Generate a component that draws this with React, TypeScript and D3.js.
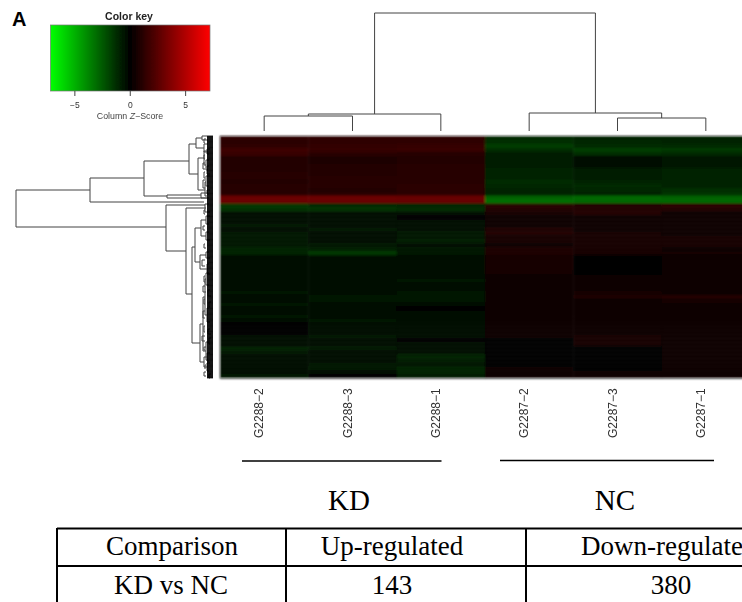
import React from "react";
import * as d3 from "d3";

// ---------- data ----------
const samples = ["G2288-2", "G2288-3", "G2288-1", "G2287-2", "G2287-3", "G2287-1"];
const sampleLabels = ["G2288\u22122", "G2288\u22123", "G2288\u22121", "G2287\u22122", "G2287\u22123", "G2287\u22121"];

const zG2288_2 = [
  1.3,1.2,1.3,1.7,1.6,1.0,0.9,0.9,1.0,1.1,
  1.1,1.0,1.1,1.1,1.1,3.0,3.0,-1.6,-1.4,-0.4,
  -0.3,-0.4,-0.6,-0.3,-0.5,-0.5,-0.5,-0.5,-1.0,-0.9,
  -0.2,-0.2,-0.2,-0.3,-0.2,-0.3,-0.3,-0.2,-0.4,-0.5,
  -0.4,-0.4,-0.5,-0.4,-0.2,-0.5,-0.3,-0.1,-0.1,-0.1,
  -0.2,-0.3,-0.2,-0.9,-0.5,-0.2,-0.2,-0.2,-0.3,-0.2,-0.7];
const zG2288_3 = [
  1.3,1.3,1.4,1.5,1.2,0.8,0.8,0.9,1.0,1.0,
  1.1,1.1,1.1,1.0,1.1,3.0,2.9,-1.2,-1.4,-0.3,
  -0.3,-0.2,-0.2,-0.6,-0.4,-0.4,-0.4,-0.6,-0.8,-1.6,
  -0.3,-0.3,-0.4,-0.3,-0.3,-0.3,-0.2,-0.3,-0.3,-0.4,
  -0.5,-0.5,-0.4,-0.2,-0.3,-0.4,-0.5,-0.4,-0.3,-0.4,
  -0.6,-0.3,-0.4,-0.7,-0.3,-0.2,-0.2,-0.5,-0.7,-0.3,-0.1];
const zG2288_1 = [
  1.3,1.3,1.5,1.6,1.1,0.9,1.0,1.1,1.1,1.1,
  1.1,1.1,1.2,1.2,1.2,2.9,2.9,-1.1,-1.2,-0.2,
  -0.1,-0.2,-0.2,-0.4,-0.7,-0.7,-0.8,-0.4,-0.7,-0.7,
  -0.3,-0.3,-0.4,-0.3,-0.3,-0.4,-0.5,-0.4,-0.4,-0.7,
  -0.5,-0.7,-0.2,-0.1,-0.2,-0.3,-0.3,-0.2,-0.2,-0.2,
  -0.2,-0.1,-0.4,-0.2,-0.2,-0.9,-0.8,-0.6,-0.9,-0.9,-0.8];
const zG2287_2 = [
  -1.2,-1.3,-1.7,-1.3,-0.8,-0.8,-0.8,-0.8,-1.0,-1.0,
  -1.0,-1.2,-1.1,-1.0,-1.0,-2.7,-3.1,1.2,1.0,0.5,
  0.3,0.3,0.4,0.8,0.9,0.5,0.7,0.4,0.8,0.8,
  0.7,0.7,0.7,0.6,0.5,0.4,0.4,0.4,0.4,0.3,
  0.3,0.4,0.4,0.4,0.3,0.3,0.2,0.2,0.2,0.2,
  0.2,0.1,0.1,0.1,0.1,0.1,0.1,0.1,0.2,0.4,0.2];
const zG2287_3 = [
  -1.0,-1.1,-1.2,-1.7,-1.3,-0.4,-0.3,-0.4,-0.8,-0.8,
  -0.8,-0.9,-1.2,-1.1,-1.0,-2.9,-2.9,0.9,1.0,0.9,
  0.2,0.2,0.3,0.4,0.5,0.5,0.6,0.7,0.7,0.7,
  0.1,0.1,0.1,0.1,0.1,0.2,0.2,0.2,0.4,0.6,
  0.8,0.2,0.3,0.2,0.2,0.2,0.2,0.3,0.3,0.4,
  0.5,0.5,0.5,0.1,0.1,0.1,0.1,0.1,0.1,0.2,0.2];
const zG2287_1 = [
  -1.0,-1.0,-1.2,-1.6,-1.2,-0.5,-0.6,-0.6,-0.9,-1.0,
  -1.0,-1.0,-1.0,-1.3,-1.4,-2.7,-2.9,1.3,1.0,0.2,
  0.3,0.3,0.3,0.4,0.4,0.5,0.6,0.7,0.4,0.5,
  0.2,0.2,0.3,0.3,0.4,0.3,0.3,0.2,0.3,0.4,
  0.9,0.6,0.4,0.3,0.2,0.2,0.2,0.2,0.3,0.2,
  0.3,0.4,0.4,0.2,0.3,0.3,0.2,0.2,0.2,0.2,0.2];
const columnValues = [zG2288_2, zG2288_3, zG2288_1, zG2287_2, zG2287_3, zG2287_1];

// column dendrogram: merge heights
const colTree = {
  h: 118,
  children: [
    { h: 17, children: [{ h: 15, children: [{ h: 0, name: "G2288-2" }, { h: 0, name: "G2288-3" }] }, { h: 0, name: "G2288-1" }] },
    { h: 18, children: [{ h: 0, name: "G2287-2" }, { h: 13, children: [{ h: 0, name: "G2287-3" }, { h: 0, name: "G2287-1" }] }] },
  ],
};

// row dendrogram merges: [distance, rank of upper child, rank of lower child, distance of upper child, distance of lower child]
const rowMerges = [
  [197,54,91,123,47],[123,42,66,69,9],[69,25,60,24,46],[46,59,62,12,6],
  [24,8,38,17,15],[17,2,12,11,9],[15,22,54,9,8],
  [11,0,4,6,5],[9,8,16,5,6],[9,15,29,6,7],[8,46,60,7,6],
  [7,24,34,4,5],[7,40,50,3,4],[6,13,18,3,4],[6,30,38,4,3],[6,54,58,3,4],
  [12,57,62,5,4],
  [47,69,115,8,27],[27,72,158,7,21],[21,111,207,18,13],
  [18,92,126,12,13],[12,84,100,7,7],[13,119,133,7,6],
  [7,80,88,3,4],[7,96,104,4,3],[7,116,122,4,3],[6,128,138,4,3],[8,68,76,4,3],
  [13,188,226,10,9],[10,161,215,8,7],
  [8,143,179,7,6],[7,137,149,4,4],[6,172,186,4,3],
  [7,206,224,4,5],[9,221,231,6,6],[6,217,225,3,4],[6,227,235,3,4],
  [5,154,160,3,2],[4,166,171,2,3],[5,193,198,3,2],[4,202,208,2,3],[4,238,242,2,3],
  [9,3,7,7,8],[9,19,23,8,8],[10,27,33,8,8],[9,36,42,8,8],[10,44,52,8,8],
  [9,74,78,8,8],[10,90,94,8,8],[9,108,112,8,7],[11,124,130,8,8],[9,140,146,8,8],
  [10,150,156,8,7],[9,163,168,8,8],[10,175,182,8,8],[9,190,196,8,8],[11,200,205,8,8],
  [9,211,214,7,8],[8,229,233,7,8],[9,236,240,7,7],
];
const rowCombRanks = d3.range(0, 242, 0.46);

const keyTicks = [-5, 0, 5];
const tableHeader = ["Comparison", "Up-regulated", "Down-regulated"];
const tableRow = ["KD vs NC", "143", "380"];
const groups = [
  { name: "KD", first: "G2288-2", last: "G2288-1" },
  { name: "NC", first: "G2287-2", last: "G2287-1" },
];

// ---------- scales ----------
const W = 742, H = 602;
const color = d3.scaleLinear<string>().domain([-7.2, 0, 7.2]).range(["#00ff00", "#000000", "#ff0000"]);
const keyX = d3.scaleLinear().domain([-7.2, 7.2]).range([50.5, 210]);
const colX = d3.scaleBand<string>().domain(samples).range([220, 750]);
const rowY = d3.scaleBand<number>().domain(d3.range(zG2288_2.length)).range([136, 378]);
const dendH = d3.scaleLinear().domain([0, 118]).range([131, 13]);
const distX = d3.scaleLinear().domain([0, 197]).range([213, 16]);
const rankY = d3.scaleLinear().domain([0, 242]).range([136, 378]);

const root = d3.hierarchy<any>(colTree);
const cx = (n: any): number => n.children ? d3.mean(n.children, cx) as number : (colX(n.data.name) as number) + colX.bandwidth() / 2;

function colLinks() {
  const out: string[] = [];
  root.each((n: any) => {
    if (!n.children) return;
    const p = d3.path();
    const [a, b] = n.children;
    p.moveTo(cx(a), dendH(a.data.h));
    p.lineTo(cx(a), dendH(n.data.h));
    p.lineTo(cx(b), dendH(n.data.h));
    p.lineTo(cx(b), dendH(b.data.h));
    out.push(p.toString());
  });
  return out;
}
function rowLink(m: number[]) {
  const [d, y1, y2, d1, d2] = m;
  const p = d3.path();
  p.moveTo(distX(d1), rankY(y1));
  p.lineTo(distX(d), rankY(y1));
  p.lineTo(distX(d), rankY(y2));
  p.lineTo(distX(d2), rankY(y2));
  return p.toString();
}

const sans = "'Liberation Sans', Arial, sans-serif";
const serif = "'Liberation Serif', 'Times New Roman', serif";

export default function App() {
  return (
    <svg width={W} height={H} viewBox={`0 0 ${W} ${H}`} style={{ position: "absolute", left: 0, top: 0, background: "#fff" }}>
      <defs>
        <linearGradient id="keyGrad">
          {[-7.2, 0, 7.2].map((v) => (
            <stop key={v} offset={(keyX(v) - 50.5) / 159.5} stopColor={color(v)} />
          ))}
        </linearGradient>
        <filter id="soft" x="-5%" y="-5%" width="110%" height="110%">
          <feGaussianBlur stdDeviation="0.55" />
        </filter>
        <filter id="softer" x="-5%" y="-5%" width="110%" height="110%">
          <feGaussianBlur stdDeviation="0.8" />
        </filter>
      </defs>

      <text x={12} y={26} fontFamily={sans} fontWeight="bold" fontSize={20} fill="#000">A</text>

      {/* colour key */}
      <g filter="url(#soft)">
        <rect x={keyX(-7.2)} y={25} width={keyX(7.2) - keyX(-7.2)} height={66} fill="url(#keyGrad)" stroke="#777" strokeWidth={0.7} />
        {keyTicks.map((t) => (
          <g key={t}>
            <line x1={keyX(t)} x2={keyX(t)} y1={91} y2={96} stroke="#444" />
            <text x={keyX(t)} y={108} textAnchor="middle" fontFamily={sans} fontSize={8.5} fill="#333">{t < 0 ? `\u2212${-t}` : t}</text>
          </g>
        ))}
        <text x={129} y={20} textAnchor="middle" fontFamily={sans} fontWeight="bold" fontSize={10.5} fill="#222">Color key</text>
        <text x={130} y={119} textAnchor="middle" fontFamily={sans} fontSize={8.8} fill="#444">
          Column <tspan fontStyle="italic">Z</tspan>{"\u2212Score"}
        </text>
      </g>

      {/* column dendrogram */}
      <g filter="url(#soft)" fill="none" stroke="#444" strokeWidth={1}>
        {colLinks().map((d, i) => <path key={i} d={d} />)}
      </g>

      {/* row dendrogram */}
      <g filter="url(#soft)" fill="none" stroke="#444" strokeWidth={1}>
        {rowMerges.map((m, i) => <path key={i} d={rowLink(m)} />)}
        {rowCombRanks.map((r, i) => (
          <line key={i} x1={distX(0)} x2={distX(6)} y1={rankY(r)} y2={rankY(r)} stroke="#000" strokeWidth={0.8} />
        ))}
      </g>

      {/* heat map */}
      <g filter="url(#softer)">
        {columnValues.map((vals, c) =>
          vals.map((v, r) => (
            <rect key={`${c}-${r}`} x={colX(samples[c])} y={rowY(r)} width={colX.bandwidth() + 0.5} height={rowY.bandwidth() + 0.5} fill={color(v)} />
          ))
        )}
      </g>
      <rect x={220} y={136} width={540} height={242} fill="none" stroke="#999" strokeWidth={0.8} />

      {/* sample labels */}
      <g filter="url(#soft)">
        {samples.map((s, i) => {
          const x = (colX(s) as number) + colX.bandwidth() / 2 - 1;
          return (
            <text key={s} transform={`translate(${x},438) rotate(-90)`} fontFamily={sans} fontSize={12} fill="#333">
              {sampleLabels[i]}
            </text>
          );
        })}
      </g>

      {/* group brackets */}
      <line x1={242} x2={441.5} y1={461} y2={461} stroke="#000" strokeWidth={1.6} />
      <line x1={500} x2={714} y1={460.5} y2={460.5} stroke="#000" strokeWidth={1.6} />
      <text x={349} y={510} textAnchor="middle" fontFamily={serif} fontSize={29} fill="#000">{groups[0].name}</text>
      <text x={615} y={510} textAnchor="middle" fontFamily={serif} fontSize={29} fill="#000">{groups[1].name}</text>

      {/* table */}
      <g stroke="#000" strokeWidth={2} fill="none">
        <line x1={57} x2={W} y1={528.5} y2={528.5} />
        <line x1={57} x2={W} y1={566} y2={566} />
        <line x1={57} x2={57} y1={528} y2={H} />
        <line x1={286} x2={286} y1={528} y2={H} />
        <line x1={526} x2={526} y1={528} y2={H} />
      </g>
      <g fontFamily={serif} fontSize={27} fill="#000">
        <text x={172} y={555} textAnchor="middle">{tableHeader[0]}</text>
        <text x={392} y={555} textAnchor="middle">{tableHeader[1]}</text>
        <text x={581} y={555}>{tableHeader[2]}</text>
        <text x={171} y={594} textAnchor="middle">{tableRow[0]}</text>
        <text x={392} y={594} textAnchor="middle">{tableRow[1]}</text>
        <text x={671} y={594} textAnchor="middle">{tableRow[2]}</text>
      </g>
    </svg>
  );
}
